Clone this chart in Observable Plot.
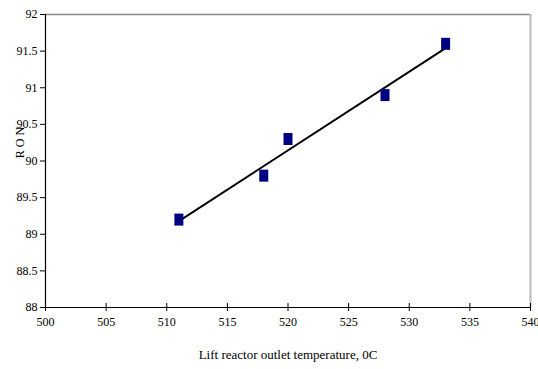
<!DOCTYPE html>
<html>
<head>
<meta charset="utf-8">
<script src="https://cdn.jsdelivr.net/npm/d3@7"></script>
<script src="https://cdn.jsdelivr.net/npm/@observablehq/plot@0.6"></script>
<style>
  html, body { margin: 0; padding: 0; background: #fff; }
  svg, svg text, svg g { font-family: "Liberation Serif", "Times New Roman", serif !important; font-variant: normal !important; }
</style>
</head>
<body>
<div id="chart"></div>
<script>
const temperature = [511, 518, 520, 528, 533];
const ron = [89.2, 89.8, 90.3, 90.9, 91.6];
const xTicks = [500, 505, 510, 515, 520, 525, 530, 535, 540];
const yTicks = [88, 88.5, 89, 89.5, 90, 90.5, 91, 91.5, 92];
const xTitle = "Lift reactor outlet temperature, 0C";
const yTitle = "R O N";

const data = temperature.map((t, i) => ({t, r: ron[i]}));

const rectSymbol = {
  draw(context) {
    context.rect(-4.5, -6, 9, 12);
  }
};

const serif = "Liberation Serif";

const chart = Plot.plot({
  width: 538,
  height: 369,
  marginLeft: 45,
  marginRight: 8,
  marginTop: 14,
  marginBottom: 62,
  style: {fontFamily: "'Liberation Serif', 'Times New Roman', serif", fontSize: "12px", background: "#fff", color: "#000"},
  x: {domain: [500, 540]},
  y: {domain: [88, 92]},
  marks: [
    Plot.ruleY([92], {stroke: "#888", strokeWidth: 1.5}),
    Plot.ruleX([540], {stroke: "#bbb", strokeWidth: 2}),
    Plot.ruleY([88], {stroke: "#000", strokeWidth: 1.2}),
    Plot.ruleX([500], {stroke: "#000", strokeWidth: 1.2}),
    Plot.axisY({ticks: yTicks, tickSize: 5, tickPadding: 3, tickFormat: d => String(d), label: null, stroke: "#000", fontSize: 12, fontFamily: serif, fontVariant: "normal"}),
    Plot.axisX({ticks: xTicks, tickSize: 8, dy: -4, tickFormat: () => "", label: null, stroke: "#000"}),
    Plot.axisX({ticks: xTicks, tickSize: 0, tickPadding: 10, tickFormat: d => String(d), label: null, fontSize: 12, fontFamily: serif, fontVariant: "normal"}),
    Plot.text([xTitle], {frameAnchor: "bottom", dy: 51, fontSize: 13, fontFamily: serif, text: d => d}),
    Plot.text([yTitle], {frameAnchor: "top-left", dx: -30, dy: 128, rotate: -90, textAnchor: "middle", fontSize: 12, fontFamily: serif, text: d => d}),
    Plot.linearRegressionY(data, {x: "t", y: "r", ci: 0, stroke: "#000", strokeWidth: 2}),
    Plot.dot(data, {x: "t", y: "r", symbol: rectSymbol, fill: "#000080", stroke: "none"})
  ]
});

document.getElementById("chart").appendChild(chart);
</script>
</body>
</html>
